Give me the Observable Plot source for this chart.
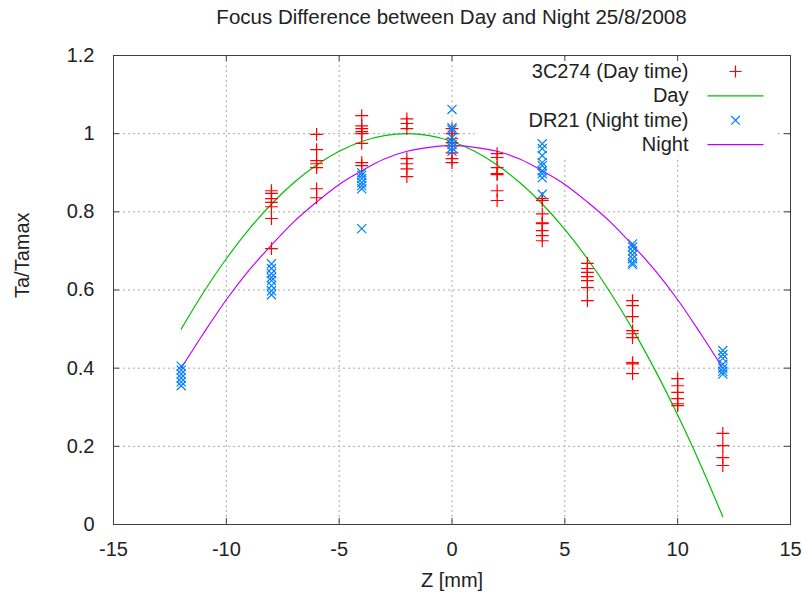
<!DOCTYPE html>
<html><head><meta charset="utf-8">
<script src="https://cdn.jsdelivr.net/npm/d3@7"></script>
<script src="https://cdn.jsdelivr.net/npm/@observablehq/plot@0.6"></script>
<style>
body{margin:0;background:#fff;font-family:"Liberation Sans",Arial,sans-serif;}
#title{height:30px;box-sizing:border-box;width:802px;padding-left:113px;padding-right:12px;text-align:center;font-size:20.5px;line-height:34px;color:#222;white-space:nowrap}
</style></head><body>
<div id="title">Focus Difference between Day and Night 25/8/2008</div>
<div id="chart"></div>
<script>
// ---- data ----
const dayZ = [-8, -6, -4, -2, 0, 2, 4, 6, 8, 10, 12];
const dayTa = [
  [0.854, 0.847, 0.834, 0.824, 0.813, 0.783, 0.706],
  [0.998, 0.959, 0.931, 0.923, 0.913, 0.859, 0.836],
  [1.046, 1.020, 1.013, 1.005, 1.000, 0.975, 0.926, 0.918],
  [1.038, 1.026, 1.013, 0.936, 0.923, 0.910, 0.890],
  [1.013, 1.000, 0.987, 0.977, 0.969, 0.951, 0.936, 0.926],
  [0.949, 0.939, 0.913, 0.898, 0.895, 0.854, 0.829],
  [0.834, 0.829, 0.795, 0.772, 0.770, 0.752, 0.739, 0.726],
  [0.668, 0.655, 0.645, 0.634, 0.624, 0.606, 0.573],
  [0.573, 0.560, 0.532, 0.496, 0.488, 0.478, 0.414, 0.411, 0.386],
  [0.373, 0.355, 0.338, 0.322, 0.309, 0.304],
  [0.233, 0.202, 0.171, 0.151]
];
const nightZ = [-12, -8, -4, 0, 4, 8, 12];
const nightTa = [
  [0.405, 0.395, 0.385, 0.375, 0.365, 0.355],
  [0.667, 0.655, 0.642, 0.632, 0.624, 0.611, 0.598, 0.588],
  [0.900, 0.893, 0.885, 0.875, 0.867, 0.859, 0.757],
  [1.062, 1.015, 1.010, 0.990, 0.980, 0.972, 0.964, 0.955],
  [0.974, 0.962, 0.944, 0.926, 0.918, 0.905, 0.898, 0.887, 0.845],
  [0.718, 0.710, 0.700, 0.690, 0.680, 0.670, 0.665],
  [0.445, 0.435, 0.425, 0.410, 0.400, 0.392, 0.385]
];
const fitZ = [-12, -11, -10, -9, -8, -7, -6, -5, -4, -3, -2, -1, 0, 1, 2, 3, 4, 5, 6, 7, 8, 9, 10, 11, 12];
const dayFit = [0.50, 0.595, 0.68, 0.755, 0.82, 0.875, 0.92, 0.955, 0.98, 0.995, 1.0, 0.995, 0.98, 0.955, 0.92, 0.875, 0.82, 0.755, 0.68, 0.595, 0.50, 0.395, 0.28, 0.155, 0.02];
const nightFit = [0.40, 0.49, 0.575, 0.65, 0.715, 0.775, 0.825, 0.87, 0.905, 0.935, 0.955, 0.965, 0.97, 0.965, 0.955, 0.935, 0.905, 0.87, 0.825, 0.775, 0.715, 0.65, 0.575, 0.49, 0.40];
const xTicks = [-15, -10, -5, 0, 5, 10, 15];
const yTicks = [0, 0.2, 0.4, 0.6, 0.8, 1.0, 1.2];
const legendLabels = ["3C274 (Day time)", "Day", "DR21 (Night time)", "Night"];
const titleText = "Focus Difference between Day and Night 25/8/2008";
const xLabel = "Z [mm]";
const yLabel = "Ta/Tamax";

// ---- build tables ----
const dayPts = dayZ.flatMap((z, i) => dayTa[i].map(v => ({z, v})));
const nightPts = nightZ.flatMap((z, i) => nightTa[i].map(v => ({z, v})));
const dayLine = fitZ.map((z, i) => ({z, v: dayFit[i]}));
const nightLine = fitZ.map((z, i) => ({z, v: nightFit[i]}));

// ---- layout ----
const W = 802, H = 570;
const mL = 113, mR = 12, mT = 25, mB = 76;
const pW = W - mL - mR, pH = H - mT - mB;
const RED = "#ff0000", GREEN = "#00c000", BLUE = "#0080ff", PURPLE = "#c000ff";
const ink = "#222";
const gridColor = "#a8a8a8";
const FS = 20;

document.getElementById("title").textContent = titleText;

const lineSym = {draw(ctx) { ctx.moveTo(-28, 0); ctx.lineTo(28, 0); }};
const legendStyles = [
  {symbol: "plus", stroke: RED, r: 4},
  {symbol: lineSym, stroke: GREEN, r: 1},
  {symbol: "times", stroke: BLUE, r: 4},
  {symbol: lineSym, stroke: PURPLE, r: 1}
];
const rowDy = i => 16 + i * 24.4;

const legendMarks = legendLabels.flatMap((label, i) => [
  Plot.text([label], {text: d => d, frameAnchor: "top-right", dx: -102, dy: rowDy(i), textAnchor: "end", lineAnchor: "middle", fill: ink, fontSize: FS}),
  Plot.dot([label], {frameAnchor: "top-right", dx: -55, dy: rowDy(i), symbol: legendStyles[i].symbol, stroke: legendStyles[i].stroke, fill: "none", r: legendStyles[i].r, strokeWidth: 1.2})
]);

const chart = Plot.plot({
  width: W, height: H,
  marginLeft: mL, marginRight: mR, marginTop: mT, marginBottom: mB,
  style: {fontFamily: "'Liberation Sans', Arial, sans-serif", fontSize: FS + "px", color: ink, background: "#fff"},
  x: {domain: [-15, 15]},
  y: {domain: [0, 1.2]},
  marks: [
    Plot.ruleX(xTicks.slice(1, -1), {stroke: gridColor, strokeDasharray: "2,3"}),
    Plot.ruleY(yTicks.slice(1, -1), {stroke: gridColor, strokeDasharray: "2,3"}),
    Plot.frame({fill: "white", stroke: null, insetLeft: 361, insetRight: 14, insetTop: 3, insetBottom: 368}),
    Plot.line(dayLine, {x: "z", y: "v", stroke: GREEN, strokeWidth: 1.2, curve: "catmull-rom"}),
    Plot.line(nightLine, {x: "z", y: "v", stroke: PURPLE, strokeWidth: 1.2, curve: "catmull-rom"}),
    Plot.dot(dayPts, {x: "z", y: "v", symbol: "plus", stroke: RED, fill: "none", r: 4.2, strokeWidth: 1.2}),
    Plot.dot(nightPts, {x: "z", y: "v", symbol: "times", stroke: BLUE, fill: "none", r: 4.2, strokeWidth: 1.2}),
    Plot.tickX(xTicks, {x: d => d, insetTop: pH - 6, stroke: "#404040"}),
    Plot.tickX(xTicks, {x: d => d, insetBottom: pH - 6, stroke: "#404040"}),
    Plot.tickY(yTicks, {y: d => d, insetRight: pW - 6, stroke: "#404040"}),
    Plot.tickY(yTicks, {y: d => d, insetLeft: pW - 6, stroke: "#404040"}),
    Plot.frame({stroke: "#404040", strokeWidth: 1}),
    ...legendMarks,
    Plot.axisX(xTicks, {tickSize: 0, tickPadding: 17, tickFormat: d => String(d), label: null, fill: ink, fontSize: FS}),
    Plot.axisY(yTicks, {tickSize: 0, tickPadding: 19, tickFormat: d => String(d), label: null, fill: ink, fontSize: FS}),
    Plot.text([xLabel], {text: d => d, frameAnchor: "bottom", dy: 56, lineAnchor: "middle", fill: ink, fontSize: FS}),
    Plot.text([yLabel], {text: d => d, frameAnchor: "left", dx: -91, dy: 8, rotate: -90, lineAnchor: "middle", fill: ink, fontSize: FS})
  ]
});
document.getElementById("chart").appendChild(chart);
</script>
</body></html>
